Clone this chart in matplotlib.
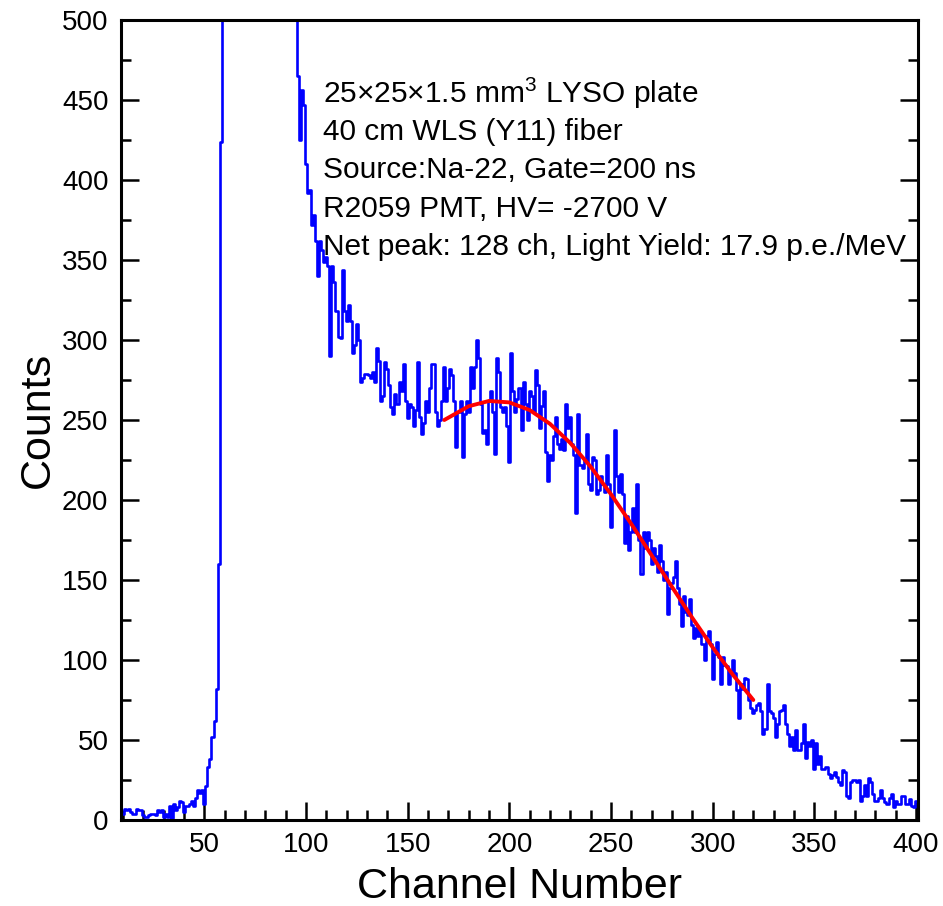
import numpy as np
import matplotlib
matplotlib.use("Agg")
import matplotlib.pyplot as plt
from matplotlib.ticker import MultipleLocator

plt.rcParams['font.family'] = ['Liberation Sans', 'DejaVu Sans']
plt.rcParams['mathtext.fontset'] = 'custom'
plt.rcParams['mathtext.rm'] = 'Liberation Sans'

# ---- data ----
first_channel = 9
last_channel = 400
counts = [
    4, 4, 7, 6, 7, 5, 4, 4, 7, 6,            # 9-18
    6, 3, 2, 2, 3, 4, 4, 3, 6, 5,            # 19-28
    6, 2, 4, 2, 9, 1, 10, 6, 8, 12,          # 29-38
    11, 5, 9, 9, 10, 12, 9, 14, 19, 17,      # 39-48
    19, 10, 21, 33, 38, 52, 62, 82, 160, 424,  # 49-58
    500, 500, 500, 500, 500, 500, 500, 500, 500, 500,  # 59-68
    500, 500, 500, 500, 500, 500, 500, 500, 500, 500,  # 69-78
    500, 500, 500, 500, 500, 500, 500, 500, 500, 500,  # 79-88
    500, 500, 500, 500, 500, 500, 500, 465, 425, 456,  # 89-98
    447, 410, 392, 394, 372, 378, 362, 340, 362, 356,  # 99-108
    349, 352, 346, 290, 346, 336, 318, 302, 301, 344,  # 109-118
    318, 312, 322, 312, 292, 297, 310, 300, 274, 276,  # 119-128
    279, 279, 278, 276, 280, 274, 295, 287, 262, 265,  # 129-138
    286, 282, 272, 258, 254, 266, 260, 274, 268, 285,  # 139-148
    262, 251, 260, 258, 246, 256, 286, 252, 241, 248,  # 149-158
    262, 255, 270, 285, 285, 255, 246, 250, 262, 283,  # 159-168
    262, 270, 282, 278, 262, 233, 255, 262, 227, 254,  # 169-178
    262, 255, 283, 270, 283, 300, 289, 260, 242, 244,  # 179-188
    235, 262, 268, 255, 229, 289, 280, 258, 255, 258,  # 189-198
    246, 224, 292, 268, 255, 263, 270, 244, 274, 260,  # 199-208
    250, 268, 265, 255, 281, 272, 245, 259, 268, 230,  # 209-218
    212, 228, 225, 240, 252, 235, 232, 238, 231, 260,  # 219-228
    245, 252, 235, 228, 192, 254, 222, 220, 225, 241,  # 229-238
    210, 206, 227, 225, 204, 206, 215, 210, 205, 228,  # 239-248
    210, 183, 202, 244, 215, 205, 216, 204, 173, 190,  # 249-258
    169, 180, 195, 180, 210, 175, 154, 180, 170, 180,  # 259-268
    175, 160, 170, 165, 155, 172, 162, 150, 155, 129,  # 269-278
    145, 148, 152, 162, 145, 135, 121, 140, 130, 128,  # 279-288
    138, 122, 114, 120, 115, 118, 110, 100, 115, 118,  # 289-298
    110, 88, 104, 111, 102, 85, 102, 97, 96, 85,       # 299-308
    93, 100, 92, 81, 64, 85, 82, 89, 88, 75,           # 309-318
    70, 67, 69, 72, 73, 68, 54, 57, 85, 68,            # 319-328
    67, 64, 52, 60, 68, 69, 72, 60, 54, 46,            # 329-338
    52, 44, 56, 44, 44, 48, 60, 39, 49, 46,            # 339-348
    50, 32, 48, 35, 40, 32, 32, 33, 29, 26,            # 349-358
    28, 30, 27, 24, 22, 31, 30, 15, 14, 24,            # 359-368
    25, 25, 24, 25, 12, 15, 22, 15, 26, 24,            # 369-378
    16, 12, 12, 14, 19, 14, 11, 10, 14, 16,            # 379-388
    8, 12, 10, 10, 15, 15, 10, 10, 13, 9,              # 389-398
    8, 12,                                             # 399-400
]
channels = np.arange(first_channel, last_channel + 1)

# fitted curve
fit_channels = [168, 180, 190, 200, 210, 220, 230, 240, 250, 260, 270, 280, 290, 300, 310, 320]
fit_counts = [250, 258.6, 261.9, 261, 256.2, 247.6, 235.6, 220.8, 203.6, 185, 165.4, 145.7, 126.3, 107.9, 90.7, 75]

x_ticks = [50, 100, 150, 200, 250, 300, 350, 400]
y_ticks = [0, 50, 100, 150, 200, 250, 300, 350, 400, 450, 500]

annotation_lines = [
    "25\u00d725\u00d71.5 mm$^{3}$ LYSO plate",
    "40 cm WLS (Y11) fiber",
    "Source:Na-22, Gate=200 ns",
    "R2059 PMT, HV= -2700 V",
    "Net peak: 128 ch, Light Yield: 17.9 p.e./MeV",
]

# ---- figure ----
fig = plt.figure(figsize=(9.43, 9.06), dpi=100)
ax = fig.add_axes([121 / 943, 1 - 820 / 906, 797 / 943, 800 / 906])

ax.step(channels, counts, where='mid', color='#0000FF', lw=1.9, zorder=2)
ax.plot(fit_channels, fit_counts, color='#FF0000', lw=2.8, zorder=3, solid_capstyle='round')

ax.set_xlim(9, 401)
ax.set_ylim(0, 500)
ax.set_xticks(x_ticks)
ax.set_yticks(y_ticks)
ax.xaxis.set_minor_locator(MultipleLocator(10))
ax.yaxis.set_minor_locator(MultipleLocator(25))
ax.tick_params(axis='both', which='both', direction='in', width=1.8, labelsize=20, colors='black')
ax.tick_params(axis='both', which='major', length=13)
ax.tick_params(axis='both', which='minor', length=7)
ax.tick_params(axis='y', which='both', right=True, left=True, pad=9)
ax.tick_params(axis='x', which='both', top=False, bottom=True, pad=9)
for sp in ax.spines.values():
    sp.set_linewidth(2.2)

ax.set_xlabel("Channel Number", fontsize=31, labelpad=6)
ax.set_ylabel("Counts", fontsize=31, labelpad=3)

y0 = (820 - 93) / 800
dy = 38.5 / 800
for i, line in enumerate(annotation_lines):
    ax.text((323 - 121) / 797, y0 - i * dy, line, transform=ax.transAxes,
            fontsize=21.5, va='center', ha='left', color='black', zorder=1)

fig.savefig("out.png", dpi=100)
